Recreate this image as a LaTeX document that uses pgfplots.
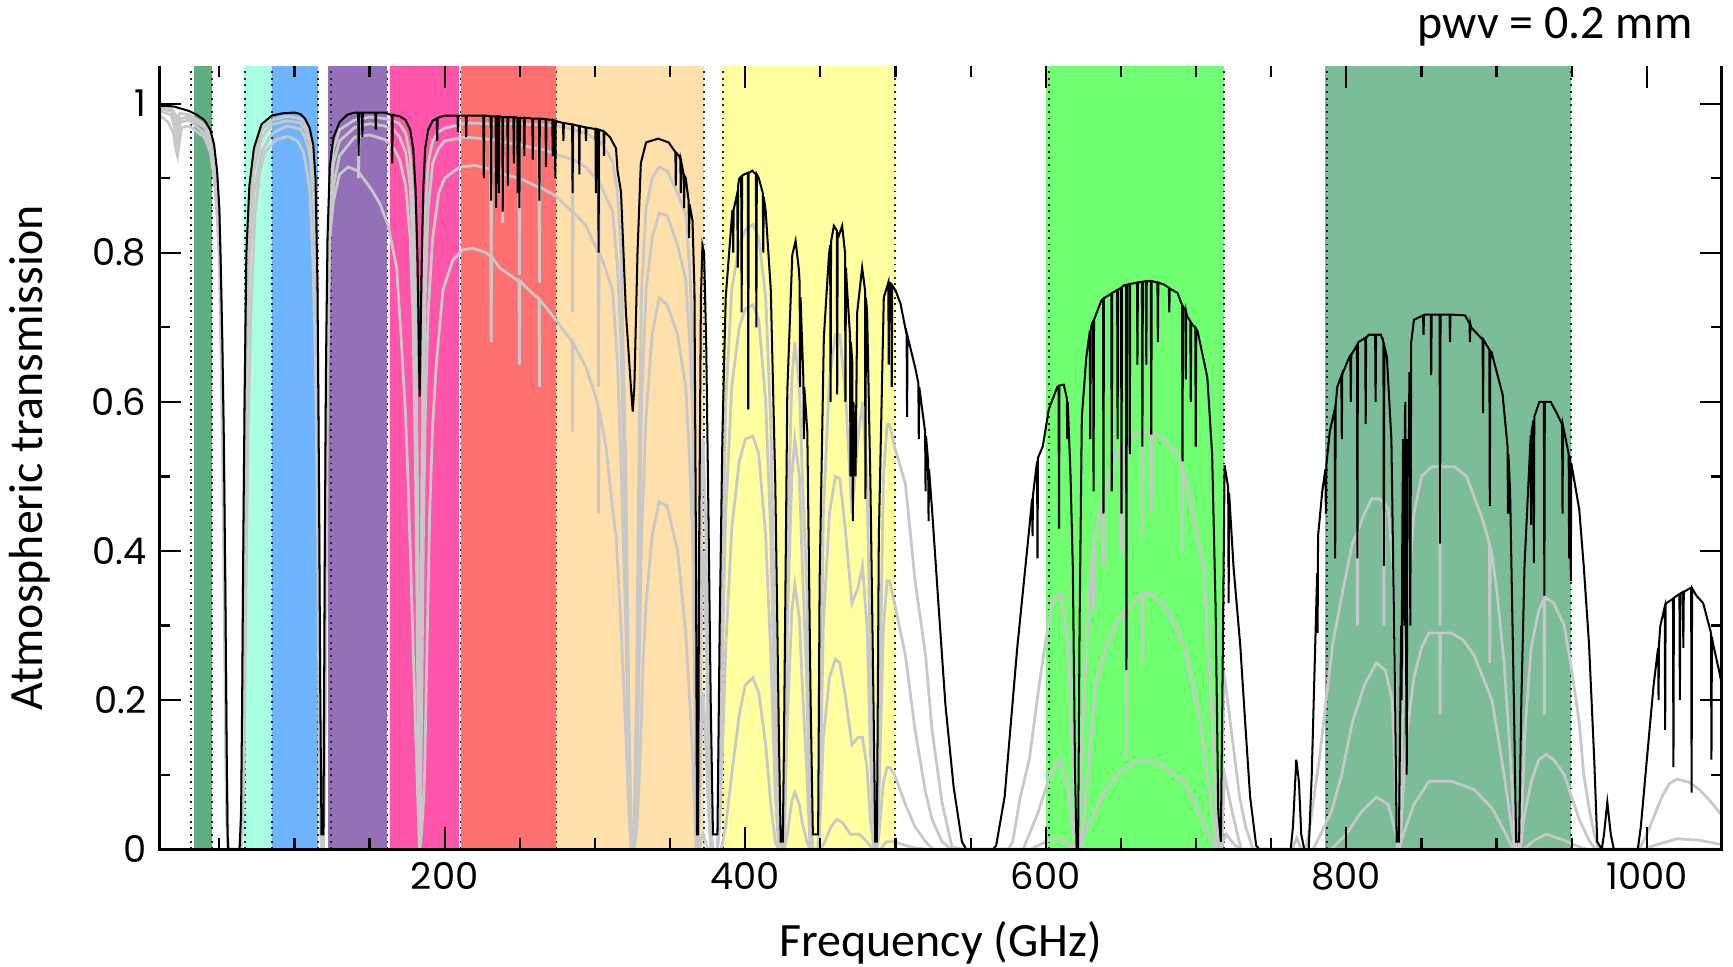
\documentclass[border=0pt]{standalone}
\usepackage{fontspec}
\setmainfont{Carlito}
\newfontfamily\tickfont{Poppins}
\usepackage{pgfplots}
\pgfplotsset{compat=1.18}

\definecolor{bOne}{RGB}{98,174,132}
\definecolor{bTwo}{RGB}{170,255,225}
\definecolor{bThree}{RGB}{110,180,255}
\definecolor{bFour}{RGB}{147,112,183}
\definecolor{bFive}{RGB}{255,85,170}
\definecolor{bSix}{RGB}{255,112,112}
\definecolor{bSeven}{RGB}{255,224,171}
\definecolor{bEight}{RGB}{255,255,160}
\definecolor{bNine}{RGB}{112,255,112}
\definecolor{bTen}{RGB}{122,189,152}
\definecolor{trgray}{RGB}{200,200,200}

\pgfplotsset{
  band/.style={draw=none, fill=#1, forget plot},
  edge/.style={black!85, line width=0.45pt, dash pattern=on 0.5pt off 1.3pt, forget plot},
  wet/.style={trgray, line width=0.75pt, forget plot},
}

\begin{document}
\begin{tikzpicture}
\begin{axis}[
  scale only axis,
  width=424pt, height=212.4pt,
  xmin=10, xmax=1050, ymin=0, ymax=1.05,
  xtick={200,400,600,800,1000},
  minor xtick={50,100,150,250,300,350,450,500,550,650,700,750,850,900,950},
  ytick={0,0.2,0.4,0.6,0.8,1},
  minor ytick={0.1,0.3,0.5,0.7,0.9},
  tick align=inside,
  major tick length=6pt, minor tick length=3pt,
  every tick/.style={black, line width=0.6pt},
  ticklabel style={font=\fontsize{10}{12}\selectfont\tickfont},
  /pgf/number format/assume math mode=true,
  /pgf/number format/1000 sep={},
  axis line style={draw=none},
  axis on top,
  clip mode=individual,
]
% ALMA bands
\addplot[band=bOne]   coordinates {(33,0) (33,1.05) (45,1.05) (45,0)} -- cycle;
\addplot[band=bTwo]   coordinates {(66.5,0) (66.5,1.05) (85,1.05) (85,0)} -- cycle;
\addplot[band=bThree] coordinates {(85,0) (85,1.05) (115.5,1.05) (115.5,0)} -- cycle;
\addplot[band=bFour]  coordinates {(122.5,0) (122.5,1.05) (161.3,1.05) (161.3,0)} -- cycle;
\addplot[band=bFive]  coordinates {(163.5,0) (163.5,1.05) (209.4,1.05) (209.4,0)} -- cycle;
\addplot[band=bSix]   coordinates {(210.7,0) (210.7,1.05) (274.3,1.05) (274.3,0)} -- cycle;
\addplot[band=bSeven] coordinates {(274.3,0) (274.3,1.05) (372.8,1.05) (372.8,0)} -- cycle;
\addplot[band=bEight] coordinates {(384.5,0) (384.5,1.05) (499.5,1.05) (499.5,0)} -- cycle;
\addplot[band=bNine]  coordinates {(600,0) (600,1.05) (718.5,1.05) (718.5,0)} -- cycle;
\addplot[band=bTen]   coordinates {(786,0) (786,1.05) (949.5,1.05) (949.5,0)} -- cycle;

% band edges
\addplot[edge] coordinates {(31,0) (31,1.05)};
\addplot[edge] coordinates {(45,0) (45,1.05)};
\addplot[edge] coordinates {(67,0) (67,1.05)};
\addplot[edge] coordinates {(85,0) (85,1.05)};
\addplot[edge] coordinates {(115.5,0) (115.5,1.05)};
\addplot[edge] coordinates {(124.5,0) (124.5,1.05)};
\addplot[edge] coordinates {(162,0) (162,1.05)};
\addplot[edge] coordinates {(210.5,0) (210.5,1.05)};
\addplot[edge] coordinates {(274.5,0) (274.5,1.05)};
\addplot[edge] coordinates {(372.6,0) (372.6,1.05)};
\addplot[edge] coordinates {(385,0) (385,1.05)};
\addplot[edge] coordinates {(499.5,0) (499.5,1.05)};
\addplot[edge] coordinates {(602,0) (602,1.05)};
\addplot[edge] coordinates {(718.5,0) (718.5,1.05)};
\addplot[edge] coordinates {(787,0) (787,1.05)};
\addplot[edge] coordinates {(949.5,0) (949.5,1.05)};

% wetter atmospheres (gray)
\addplot[wet] coordinates {
(10,0.985)(16,0.975)(19.5,0.96)(21,0.94)(22.2,0.93)(23.5,0.95)(25,0.968)(30,0.97)(40,0.955)(44,0.935)(46.5,0.9)(48.5,0.85)(50,0.79)(51,0.68)(52,0.55)(53,0.38)(54,0.18)(54.8,0.05)(55.5,0)(64.5,0)(65.5,0.03)(66.5,0.12)(67.5,0.3)(69,0.55)(71,0.72)(73.7,0.85)(77,0.91)(80.3,0.935)(88,0.952)(95.8,0.956)(102,0.95)(106,0.935)(110.2,0.886)(112.4,0.78)(114,0.65)(115.3,0.45)(116.3,0.2)(117.2,0.03)(118,0)(119.3,0)(120.2,0.1)(121,0.3)(122,0.6)(123.5,0.82)(126,0.87)(130,0.905)(135.7,0.915)(142,0.91)(151.2,0.885)(157,0.865)(162.3,0.837)(166,0.8)(168,0.78)(171,0.686)(174,0.58)(175.5,0.5)(177.7,0.36)(180,0.2)(182,0.07)(183.3,0)(184.5,0.02)(185.5,0.05)(186.6,0.1)(188,0.25)(190,0.45)(192,0.57)(194.4,0.65)(198.8,0.75)(205.4,0.79)(212,0.804)(218.7,0.806)(227.6,0.8)(230.6,0.795)(230.9,0.68)(231.2,0.795)(236.4,0.78)(247,0.765)(249.4,0.762)(249.7,0.65)(250,0.762)(258.6,0.745)(262.7,0.738)(263,0.62)(263.3,0.737)(274,0.71)(284.8,0.68)(285.1,0.56)(285.4,0.68)(294,0.646)(300,0.61)(302.1,0.595)(302.4,0.45)(302.7,0.59)(307.3,0.54)(311.7,0.456)(314,0.42)(317.3,0.3)(320.6,0.15)(322.5,0.05)(324,0)(326,0)(328,0.03)(330,0.12)(332,0.25)(334,0.33)(338,0.42)(342.7,0.466)(348,0.46)(355,0.4)(360.4,0.29)(363,0.2)(364.9,0.13)(366.5,0.04)(367.5,0)(369.5,0)(371,0.015)(372,0.02)(373.5,0.01)(375,0)(384,0)(387,0.03)(391,0.1)(396,0.18)(400,0.22)(405,0.23)(409,0.21)(413.6,0.14)(417,0.06)(420,0.01)(422,0)(426,0)(428,0.02)(431,0.065)(433,0.076)(436,0.06)(438,0.035)(441,0.01)(443,0)(450,0)(453,0.01)(457,0.03)(461,0.04)(465,0.035)(470,0.02)(476,0.02)(481,0.01)(485,0)(490,0)(494,0.01)(499,0.01)(510,0.003)(520,0)(1050,0)
};
\addplot[wet] coordinates {
(10,0.99)(18,0.985)(20.5,0.965)(22.2,0.945)(24,0.975)(30,0.978)(40,0.96)(44,0.945)(46.5,0.92)(48.5,0.87)(50,0.82)(51,0.72)(52,0.6)(53,0.44)(54,0.24)(54.8,0.08)(55.5,0)(63.5,0)(64.5,0.01)(65.3,0.07)(66,0.24)(66.8,0.42)(68,0.65)(70,0.79)(73,0.88)(78,0.935)(85,0.96)(95,0.97)(104,0.966)(107,0.955)(110,0.935)(112.5,0.88)(114,0.79)(115.3,0.6)(116.3,0.3)(117.2,0.06)(118,0)(119.3,0)(120.2,0.24)(121,0.48)(122,0.68)(123.5,0.82)(126,0.89)(130,0.93)(140,0.955)(150,0.958)(160,0.952)(166,0.94)(170,0.925)(174,0.89)(177,0.82)(179,0.7)(180.5,0.52)(181.8,0.28)(182.6,0.08)(183.3,0)(184,0.07)(184.8,0.22)(185.8,0.42)(187,0.58)(189,0.72)(192,0.82)(196,0.88)(200,0.9)(210,0.915)(220,0.917)(230.6,0.912)(230.9,0.78)(231.2,0.912)(240,0.905)(249.4,0.9)(249.7,0.77)(250,0.9)(260,0.89)(262.7,0.888)(263,0.76)(263.3,0.888)(274,0.876)(284.8,0.855)(285.1,0.72)(285.4,0.855)(294,0.836)(302.1,0.8)(302.4,0.62)(302.7,0.8)(305,0.79)(311.7,0.75)(315,0.65)(317.3,0.52)(320.6,0.29)(322.5,0.08)(324,0)(326,0)(327.5,0.06)(329.4,0.25)(331,0.42)(334,0.58)(338,0.69)(342.7,0.74)(348,0.73)(355,0.69)(360.4,0.62)(363,0.52)(364.9,0.42)(366.5,0.18)(367.5,0.01)(368.5,0)(369.5,0.05)(371,0.18)(372,0.21)(373.5,0.15)(375.5,0.05)(377,0)(381.5,0)(383,0.03)(385,0.14)(387,0.27)(391,0.43)(396,0.52)(400,0.55)(405,0.554)(409,0.53)(413.6,0.42)(417,0.26)(420,0.07)(422.4,0)(425,0)(426,0.01)(428,0.17)(431,0.32)(433,0.355)(436,0.31)(438,0.22)(441,0.1)(443,0.01)(445,0)(448.5,0)(449.5,0.02)(452,0.15)(456,0.23)(460,0.255)(463,0.25)(467,0.2)(471,0.14)(475,0.15)(478,0.15)(481,0.11)(483.3,0.04)(485.6,0)(487.6,0)(489,0.02)(492,0.09)(494.4,0.11)(496,0.11)(499.3,0.1)(506.6,0.06)(513,0.03)(520,0.01)(525,0)(590,0)(600,0.01)(609,0.015)(615,0.008)(620,0)(622,0)(630,0.04)(640,0.08)(650,0.105)(660,0.118)(668,0.12)(680,0.11)(692,0.09)(700,0.06)(706,0.03)(712,0.005)(716,0)(720,0.02)(726,0.005)(730,0)(790,0)(800,0.02)(810,0.05)(820,0.07)(828,0.06)(833,0.02)(835,0)(838,0.02)(845,0.06)(855,0.091)(870,0.091)(885,0.08)(897,0.055)(905,0.025)(911,0)(918,0)(925,0.012)(933,0.02)(945,0.012)(955,0.003)(960,0)(1050,0)
};
\addplot[wet] coordinates {
(10,0.993)(18,0.99)(20.5,0.975)(22.2,0.955)(24,0.98)(30,0.982)(40,0.968)(44,0.952)(46.5,0.93)(48.5,0.89)(50,0.84)(51,0.74)(52,0.63)(53,0.48)(54,0.28)(54.8,0.1)(55.5,0.01)(56,0)(63.5,0)(64.5,0.02)(65.3,0.1)(66,0.3)(66.8,0.5)(68,0.72)(70,0.84)(73,0.91)(78,0.955)(85,0.972)(95,0.977)(104,0.974)(107,0.966)(110,0.95)(112.5,0.91)(114,0.84)(115.3,0.66)(116.3,0.38)(117.2,0.1)(118,0)(119.3,0)(120.2,0.3)(121,0.55)(122,0.74)(123.5,0.86)(126,0.92)(130,0.95)(140,0.968)(150,0.973)(160,0.97)(166,0.965)(170,0.955)(174,0.935)(177,0.89)(179,0.8)(180.5,0.65)(181.8,0.4)(182.6,0.15)(183.3,0)(184,0.15)(184.8,0.38)(185.8,0.6)(187,0.74)(189,0.86)(192,0.92)(196,0.94)(200,0.95)(214,0.955)(230.6,0.952)(230.9,0.83)(231.2,0.952)(240,0.948)(249.4,0.945)(249.7,0.82)(250,0.945)(260,0.94)(262.7,0.94)(263,0.83)(263.3,0.94)(274,0.932)(284.8,0.925)(285.1,0.82)(285.4,0.925)(294,0.915)(302.1,0.895)(302.4,0.72)(302.7,0.895)(305,0.885)(311.7,0.856)(315,0.78)(317.3,0.68)(320.6,0.4)(322.5,0.12)(324,0.01)(325,0)(326,0.01)(327.5,0.12)(329.4,0.4)(331,0.6)(334,0.75)(338,0.82)(342.7,0.853)(348,0.85)(355,0.81)(360.4,0.764)(363,0.68)(364.9,0.587)(366.5,0.3)(367.5,0.03)(368.5,0)(369.5,0.12)(371,0.35)(372,0.4)(373.5,0.32)(375.5,0.12)(377,0.01)(378.5,0)(381.5,0)(383,0.08)(385,0.28)(387,0.45)(391,0.62)(396,0.7)(400,0.725)(405,0.73)(409,0.71)(413.6,0.6)(417,0.42)(420,0.15)(422.4,0.01)(423.6,0)(425,0)(426,0.03)(428,0.3)(431,0.5)(433,0.55)(436,0.5)(438,0.38)(441,0.22)(443,0.03)(445,0)(448.5,0)(449.5,0.05)(452,0.3)(456,0.45)(460,0.5)(463,0.497)(467,0.42)(471,0.33)(475,0.35)(478,0.38)(481,0.3)(483.3,0.13)(485.6,0.01)(486.5,0)(487.6,0)(489,0.07)(492,0.3)(494.4,0.36)(496,0.36)(499.3,0.33)(506.6,0.26)(513,0.16)(520,0.076)(524.3,0.04)(531,0.01)(537,0)(585,0)(595,0.05)(603,0.1)(609,0.12)(615,0.08)(618,0.03)(620,0)(621.5,0)(625,0.03)(633,0.22)(640,0.27)(646,0.3)(653.4,0.322)(653.7,0.12)(654,0.323)(655,0.325)(664,0.34)(664.3,0.25)(664.6,0.34)(666,0.343)(670,0.343)(680,0.325)(692,0.274)(697,0.23)(703,0.17)(706,0.12)(709.6,0.07)(713,0.02)(715,0)(717,0)(719,0.1)(724,0.05)(730,0)(778,0)(790,0.05)(797,0.1)(804,0.17)(812,0.22)(820,0.25)(826,0.24)(830.5,0.2)(833,0.08)(834,0)(835.5,0)(837,0.05)(840,0.15)(845,0.23)(850,0.27)(855,0.29)(862.1,0.29)(862.4,0.18)(862.7,0.29)(870,0.29)(878,0.28)(885,0.26)(891,0.23)(897,0.2)(905,0.1)(910,0.03)(912,0)(916,0)(918,0.04)(923,0.09)(928,0.12)(933,0.127)(938,0.12)(945,0.1)(950,0.07)(955,0.04)(962,0.01)(966,0)(998,0)(1005,0.005)(1020,0.014)(1035,0.012)(1050,0.006)
};
\addplot[wet] coordinates {
(10,0.995)(18,0.993)(21,0.985)(22.2,0.975)(23.5,0.987)(30,0.985)(40,0.972)(44,0.958)(46.5,0.935)(48.5,0.9)(50,0.85)(51,0.76)(52,0.66)(53,0.52)(54,0.32)(54.8,0.12)(55.5,0.01)(56,0)(63.5,0)(64.5,0.03)(65.3,0.15)(66,0.38)(66.8,0.56)(68,0.77)(70,0.87)(73,0.93)(78,0.965)(85,0.978)(95,0.983)(104,0.98)(107,0.974)(110,0.96)(112.5,0.93)(114,0.88)(115.3,0.72)(116.3,0.45)(117.2,0.15)(118,0.01)(119.3,0.01)(120.2,0.35)(121,0.6)(122,0.78)(123.5,0.89)(126,0.94)(130,0.965)(140,0.978)(142.4,0.979)(142.7,0.9)(143,0.979)(150,0.982)(160,0.98)(166,0.977)(170,0.973)(174,0.96)(177,0.93)(179,0.87)(180.5,0.75)(181.8,0.5)(182.6,0.25)(183.3,0.01)(184,0.25)(184.8,0.5)(185.8,0.72)(187,0.85)(189,0.92)(192,0.95)(196,0.962)(200,0.967)(215,0.974)(230.6,0.973)(230.9,0.86)(231.2,0.973)(238.3,0.973)(238.6,0.84)(238.9,0.973)(240,0.973)(249.4,0.973)(249.7,0.85)(250,0.973)(260,0.972)(262.7,0.972)(263,0.86)(263.3,0.972)(275,0.97)(284.8,0.966)(285.1,0.86)(285.4,0.966)(294,0.96)(302.1,0.95)(302.4,0.78)(302.7,0.95)(305,0.945)(311.7,0.922)(315,0.88)(317.3,0.8)(320.6,0.5)(322.5,0.2)(324,0.03)(325,0)(326,0.03)(327.5,0.2)(329.4,0.55)(331,0.75)(334,0.86)(338,0.9)(342.7,0.915)(348,0.91)(355,0.88)(360.4,0.85)(363,0.78)(364.9,0.686)(366.5,0.4)(367.5,0.05)(368.5,0.01)(369.5,0.2)(371,0.5)(372,0.55)(373.5,0.45)(375.5,0.2)(377,0.03)(378.5,0)(381.5,0)(383,0.15)(385,0.4)(387,0.6)(391,0.75)(396,0.81)(400,0.83)(405,0.838)(409,0.82)(413.6,0.74)(417,0.57)(420,0.25)(422.4,0.03)(423.6,0)(425,0)(426,0.05)(428,0.4)(431,0.63)(433,0.68)(436,0.62)(438,0.5)(441,0.35)(443,0.07)(445,0)(448.5,0)(449.5,0.1)(452,0.45)(456,0.63)(460,0.69)(463,0.69)(467,0.6)(471,0.45)(475,0.55)(478,0.6)(481,0.5)(483.3,0.25)(485.6,0.03)(486.5,0)(487.6,0)(489,0.15)(492,0.5)(494.4,0.57)(496,0.57)(499.3,0.54)(506.6,0.49)(513,0.36)(520,0.26)(524.3,0.16)(531,0.062)(537.6,0.003)(545,0)(575,0)(578,0.01)(583,0.07)(589,0.12)(595.6,0.22)(600,0.28)(604,0.33)(610,0.345)(615,0.27)(618,0.12)(620,0)(621.5,0)(623,0.1)(628.5,0.33)(631.5,0.405)(631.8,0.32)(632.1,0.41)(633,0.42)(638.1,0.475)(638.4,0.38)(638.7,0.477)(639.5,0.48)(647,0.53)(650.1,0.54)(650.4,0.4)(650.7,0.541)(653.4,0.545)(653.7,0.3)(654,0.548)(655,0.55)(662,0.56)(664,0.56)(664.3,0.42)(664.6,0.56)(669.9,0.56)(670.2,0.45)(670.5,0.56)(678,0.55)(687.7,0.53)(690.7,0.51)(691,0.4)(691.3,0.508)(694,0.49)(700,0.43)(705,0.38)(709.6,0.22)(713,0.08)(715,0.01)(717,0.01)(718.4,0.24)(722.8,0.17)(729,0.07)(733,0.03)(738,0)(764,0)(767,0.015)(770,0)(773,0)(775,0.02)(782,0.12)(791,0.276)(798,0.35)(804,0.41)(807.1,0.425)(807.4,0.3)(807.7,0.427)(812,0.45)(817,0.47)(822,0.47)(824.7,0.465)(825,0.3)(825.3,0.464)(828,0.456)(831,0.38)(832.7,0.2)(834,0)(835.5,0)(837,0.15)(840,0.3)(845,0.45)(850,0.5)(857,0.513)(862.1,0.513)(862.4,0.3)(862.7,0.513)(865,0.513)(872,0.513)(880,0.5)(885.6,0.47)(891,0.44)(895.2,0.41)(895.5,0.25)(895.8,0.405)(896.6,0.4)(900,0.35)(905,0.25)(909,0.13)(912,0.02)(913,0)(915,0)(917,0.05)(918.6,0.15)(923,0.27)(928,0.32)(931.5,0.335)(931.8,0.18)(932.1,0.335)(933,0.337)(938,0.33)(945,0.3)(950,0.24)(955,0.17)(958,0.1)(962,0.05)(965,0.02)(968,0)(995,0)(1000,0.02)(1005,0.045)(1010,0.07)(1015,0.088)(1020,0.094)(1028,0.09)(1035,0.08)(1042,0.065)(1048,0.05)(1050,0.045)
};

% pwv = 0.2 mm (black)
\addplot[black, line width=0.55pt] coordinates {
(10,0.997)(15,0.997)(20,0.996)(25,0.993)(30,0.99)(35,0.985)(40,0.978)(44,0.965)(46.5,0.945)(48.5,0.91)(50,0.86)(51,0.78)(52,0.68)(53,0.55)(54,0.35)(54.8,0.15)(55.5,0.02)(56,0)(63.5,0)(64.5,0.05)(65.2,0.2)(66,0.42)(66.8,0.6)(68,0.8)(70,0.89)(73,0.94)(78,0.972)(85,0.984)(92,0.987)(100,0.988)(104,0.986)(107,0.98)(110,0.968)(112.5,0.945)(114,0.9)(115.3,0.76)(116.3,0.5)(117.2,0.2)(118,0.02)(119.3,0.02)(120.2,0.4)(121,0.65)(122,0.82)(123.5,0.915)(126,0.955)(130,0.975)(135,0.985)(140,0.988)
(142.4,0.988)(142.7,0.93)(143,0.988)(144.9,0.988)(145.2,0.955)(145.5,0.988)(150,0.988)(153.8,0.988)(154.1,0.965)(154.4,0.988)(160,0.988)(164,0.985)(164.8,0.985)(165.1,0.92)(165.4,0.985)(170,0.983)(174,0.978)(177,0.965)(179,0.94)(180.5,0.89)(181.8,0.8)(182.6,0.7)(183.3,0.607)(184,0.7)(184.8,0.8)(185.8,0.89)(187,0.94)(189,0.965)(192,0.977)
(194.7,0.98)(195,0.95)(195.3,0.981)(200,0.984)(208.5,0.984)(208.8,0.962)(209.1,0.984)(214,0.984)(214.3,0.955)(214.6,0.984)(220,0.984)(225.7,0.984)(226,0.9)(226.3,0.984)(230.6,0.983)(230.9,0.87)(231.2,0.983)(233.9,0.983)(234.2,0.86)(234.5,0.983)(235.7,0.983)(236,0.88)(236.3,0.983)(238.3,0.982)(238.6,0.855)(238.9,0.982)(240,0.982)(241.7,0.982)(242,0.89)(242.3,0.982)(245.7,0.982)(246,0.92)(246.3,0.982)(248.3,0.981)(248.6,0.88)(248.9,0.981)(249.4,0.981)(249.7,0.86)(250,0.981)(252.7,0.981)(253,0.93)(253.3,0.981)(258.3,0.98)(258.6,0.925)(258.9,0.98)(260,0.98)(262.7,0.98)(263,0.87)(263.3,0.98)(267.1,0.979)(267.4,0.915)(267.7,0.979)(271.6,0.978)(271.9,0.93)(272.2,0.978)(273.3,0.977)(273.6,0.9)(273.9,0.977)(275,0.976)(278.7,0.974)(279,0.95)(279.3,0.974)(284.8,0.972)(285.1,0.88)(285.4,0.972)(289.3,0.97)(289.6,0.905)(289.9,0.97)(293.7,0.968)(294,0.95)(294.3,0.968)(300,0.966)(300.3,0.966)(300.6,0.88)(300.9,0.966)(302.1,0.965)(302.4,0.8)(302.7,0.965)(305.7,0.963)(306,0.93)(306.3,0.962)(310,0.955)(314,0.94)(315,0.91)(317.3,0.882)(320.6,0.72)(323.9,0.62)(325.1,0.587)(326.2,0.62)(328.3,0.8)(330.5,0.92)(334,0.948)(342,0.953)(349,0.948)(353.5,0.935)(353.8,0.89)(354.1,0.934)(356,0.93)(356.8,0.925)(357.1,0.88)(357.4,0.922)(359,0.905)(359.3,0.86)(359.6,0.903)(360.4,0.9)(362.3,0.87)(362.6,0.82)(362.9,0.865)(364.9,0.843)(366.2,0.75)(367.2,0.4)(367.9,0.02)(368.6,0.02)(369.3,0.4)(370.5,0.74)(371.5,0.81)(372.6,0.8)(374,0.68)(375.5,0.45)(377,0.2)(378.5,0.02)(381.5,0.02)
(383,0.3)(384.8,0.554)(387,0.74)(391.4,0.856)(391.7,0.856)(392,0.8)(392.3,0.858)(394.7,0.88)(395,0.78)(395.3,0.89)(395.9,0.899)(397.3,0.902)(397.6,0.72)(397.9,0.903)(399.2,0.905)(401.7,0.907)(402,0.59)(402.3,0.907)(404.7,0.91)(407.1,0.905)(407.4,0.7)(407.7,0.905)(409,0.9)(411.7,0.88)(412,0.8)(412.3,0.875)(413.6,0.856)(417,0.75)(420,0.49)(422.4,0.15)(423.6,0.01)(425,0.01)(425.8,0.15)(428,0.615)(431.3,0.797)(433.5,0.816)(435.7,0.777)(436.2,0.76)(436.5,0.62)(436.8,0.74)(438,0.67)(438.7,0.63)(439,0.55)(439.3,0.62)(441.3,0.56)(443.5,0.2)(445,0.02)(448.5,0.02)(449.5,0.36)(452.3,0.686)(455.7,0.797)(456.5,0.81)(456.8,0.6)(457.1,0.815)(459,0.836)(460.9,0.83)(461.2,0.61)(461.5,0.826)(462.3,0.823)(464.5,0.836)(466.4,0.8)(466.7,0.6)(467,0.78)(467.8,0.75)(469.7,0.69)(470,0.5)(470.3,0.68)(471.2,0.654)(471.6,0.44)(472,0.6)(473.4,0.5)(474.5,0.72)(477.8,0.78)(479.7,0.75)(480,0.47)(480.3,0.74)(481.1,0.72)(483.3,0.49)(485.6,0.16)(486.5,0.01)(487.6,0.01)(488.9,0.42)(492.2,0.74)(495.2,0.76)(495.5,0.65)(495.8,0.76)(497.2,0.758)(497.5,0.62)(497.8,0.756)(499.9,0.75)(503.3,0.732)(507.4,0.69)(507.7,0.58)(508,0.688)(513.2,0.645)(515.2,0.625)(515.5,0.55)(515.8,0.62)(519.7,0.56)(520,0.48)(520.3,0.554)(521.7,0.52)(522,0.44)(522.3,0.51)(524.3,0.456)(528.7,0.325)(533.2,0.194)(538.7,0.083)(544.2,0.01)(547,0)(565,0)
(567,0.005)(572.6,0.07)(581,0.27)(589,0.43)(590.9,0.47)(591.2,0.42)(591.5,0.475)(594.2,0.52)(594.5,0.39)(594.8,0.525)(598,0.54)(602,0.59)(607.7,0.62)(608.5,0.621)(608.8,0.43)(609.1,0.622)(612,0.623)(614,0.605)(614.3,0.55)(614.6,0.6)(616.5,0.5)(618,0.377)(619.5,0.1)(620.5,0)(621.5,0)(622.5,0.3)(624,0.58)(627,0.66)(629.3,0.695)(629.6,0.55)(629.9,0.697)(630.7,0.705)(631.5,0.708)(631.8,0.48)(632.1,0.71)(637,0.736)(638.1,0.738)(638.4,0.45)(638.7,0.739)(643.6,0.745)(643.9,0.48)(644.2,0.746)(647.5,0.75)(647.8,0.55)(648.1,0.75)(650.1,0.753)(650.4,0.45)(650.7,0.754)(652.6,0.757)(653.4,0.757)(653.7,0.24)(654,0.757)(655.6,0.758)(655.9,0.53)(656.2,0.758)(660.7,0.76)(661,0.65)(661.3,0.76)(664,0.761)(664.3,0.54)(664.6,0.761)(666.6,0.762)(666.9,0.65)(667.2,0.762)(669.9,0.762)(670.2,0.556)(670.5,0.762)(674.3,0.76)(674.6,0.68)(674.9,0.76)(679,0.757)(681.9,0.753)(682.2,0.72)(682.5,0.752)(687.7,0.746)(690.7,0.73)(691,0.52)(691.3,0.728)(692.9,0.722)(693.2,0.63)(693.5,0.72)(694,0.715)(696.2,0.708)(696.5,0.6)(696.8,0.706)(699.5,0.699)(699.8,0.54)(700.1,0.698)(701,0.695)(707.5,0.633)(710.7,0.53)(713,0.326)(714.8,0.05)(716.5,0.01)(717.5,0.2)(719,0.515)(721.4,0.485)(721.7,0.33)(722,0.478)(725,0.377)(729.4,0.274)(732.7,0.17)(736,0.07)(740,0.005)(742,0)(763,0)(764.5,0.03)(766.7,0.12)(768.5,0.09)(770,0.02)(772,0)(775,0)
(777,0.1)(779,0.25)(780.6,0.37)(780.9,0.29)(781.2,0.42)(784,0.48)(786.1,0.51)(786.4,0.45)(786.7,0.515)(789,0.56)(792.3,0.59)(792.6,0.39)(792.9,0.595)(794,0.62)(796.7,0.635)(797,0.55)(797.3,0.637)(802,0.66)(802.7,0.662)(803,0.6)(803.3,0.663)(807.1,0.676)(807.4,0.39)(807.7,0.677)(808,0.68)(812.6,0.686)(812.9,0.57)(813.2,0.686)(815,0.69)(819.2,0.69)(819.5,0.6)(819.8,0.69)(823,0.69)(824.7,0.68)(825,0.38)(825.3,0.675)(827,0.66)(830,0.55)(832.5,0.2)(833.5,0.01)(835,0.01)(836.5,0.3)(836.8,0.2)(837.2,0.4)(837.8,0.55)(838.2,0.4)(838.6,0.3)(839,0.58)(839.3,0.6)(839.7,0.3)(840.2,0.1)(840.7,0.55)(841.5,0.5)(842,0.64)(842.6,0.3)(843.2,0.68)(845,0.71)(851.1,0.716)(851.4,0.69)(851.7,0.716)(852,0.717)(856.2,0.717)(856.5,0.636)(856.8,0.717)(860,0.717)(862.1,0.717)(862.4,0.41)(862.7,0.717)(868.7,0.717)(869,0.68)(869.3,0.717)(870,0.717)(879,0.716)(882,0.705)(882.3,0.68)(882.6,0.704)(883,0.7)(890,0.685)(890.7,0.684)(891,0.585)(891.3,0.683)(895.2,0.67)(895.5,0.46)(895.8,0.668)(896.6,0.667)(904,0.61)(907.3,0.54)(907.6,0.45)(907.9,0.53)(909,0.48)(911.5,0.2)(913,0.01)(915,0.01)(916.5,0.2)(918.6,0.38)(922.7,0.555)(923,0.435)(923.3,0.56)(924.5,0.575)(924.8,0.384)(925.1,0.58)(928.5,0.6)(931.5,0.6)(931.8,0.34)(932.1,0.6)(933,0.6)(936,0.6)(940,0.585)(943.6,0.57)(943.9,0.45)(944.2,0.568)(945,0.56)(948,0.53)(948.3,0.39)(948.6,0.528)(949.1,0.522)(949.4,0.36)(949.7,0.518)(955,0.456)(958,0.38)(961.5,0.276)(965,0.12)(967,0.01)(970,0)(971.5,0.02)(973.7,0.063)(976,0.02)(978,0)(994,0)
(996,0.03)(1000,0.12)(1004.5,0.22)(1007.5,0.27)(1007.8,0.2)(1008.1,0.275)(1009,0.3)(1011.9,0.325)(1012.2,0.16)(1012.5,0.327)(1013,0.33)(1017.4,0.336)(1017.7,0.11)(1018,0.337)(1020,0.34)(1021.7,0.342)(1022,0.2)(1022.3,0.343)(1024,0.345)(1024.3,0.27)(1024.6,0.345)(1028.7,0.35)(1029.5,0.35)(1029.8,0.076)(1030.1,0.35)(1033,0.34)(1037.5,0.33)(1042.7,0.29)(1043,0.12)(1043.3,0.285)(1044,0.276)(1048,0.24)(1050,0.22)
};

% frame: left, bottom, right (no top line)
\draw[black, line width=0.8pt] (rel axis cs:0,1) -- (rel axis cs:0,0) -- (rel axis cs:1,0) -- (rel axis cs:1,1);
\end{axis}

\node[anchor=base east, font=\fontsize{13}{15}\selectfont]
  at ([xshift=-4.5pt, yshift=7.5pt]current axis.north east) {pwv = 0.2 mm};
\node[anchor=base, font=\fontsize{13}{15}\selectfont]
  at ([yshift=-29pt]current axis.south) {Frequency (GHz)};
\node[anchor=base, rotate=90, font=\fontsize{13}{15}\selectfont]
  at ([xshift=-31.8pt]current axis.west) {Atmospheric transmission};

\pgfresetboundingbox
\path[use as bounding box] ([xshift=-43.2pt, yshift=-31.8pt]current axis.south west)
  rectangle ([xshift=3pt, yshift=18pt]current axis.north east);
\end{tikzpicture}
\end{document}
